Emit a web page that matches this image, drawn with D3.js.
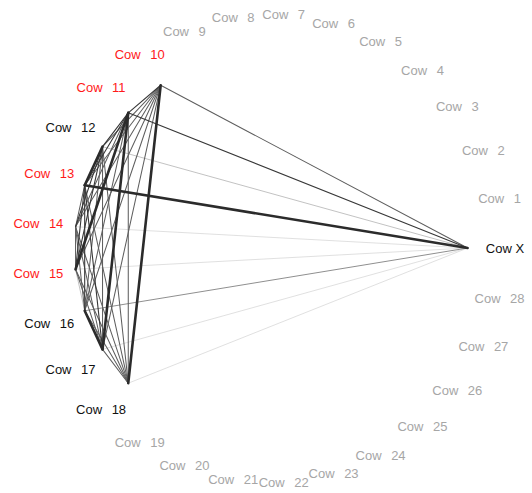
<!DOCTYPE html>
<html>
<head>
<meta charset="utf-8">
<script src="https://cdn.jsdelivr.net/npm/d3@7"></script>
<style>
  html, body { margin: 0; padding: 0; background: #fff; }
  svg { display: block; }
</style>
</head>
<body>
<svg id="chart" width="532" height="493"></svg>
<script>
// Nodes in circle order, starting at the right and running counter-clockwise
const nodeIds = ["X", "1", "2", "3", "4", "5", "6", "7", "8", "9", "10", "11", "12", "13", "14",
                 "15", "16", "17", "18", "19", "20", "21", "22", "23", "24", "25", "26", "27", "28"];

// Label groups
const redCows = ["10", "11", "13", "14", "15"];
const blackCows = ["X", "12", "16", "17", "18"];

// Weighted ties (source, target, strength 1..5)
const edgeSource = [
  "10","11","12","13","14","15","16","17","18",
  "10","10","10","10","10","10","10","10",
  "11","11","11","11","11","11","11",
  "12","12","12","12","12","12",
  "13","13","13","13","13",
  "14","14","14","14",
  "15","15","15",
  "16","16",
  "17"
];
const edgeTarget = [
  "X","X","X","X","X","X","X","X","X",
  "11","12","13","14","15","16","17","18",
  "12","13","14","15","16","17","18",
  "13","14","15","16","17","18",
  "14","15","16","17","18",
  "15","16","17","18",
  "16","17","18",
  "17","18",
  "18"
];
const edgeWeight = [
  3, 4, 2, 5, 1, 1, 2.5, 1, 1,
  4, 3, 3, 3, 3, 3, 3, 5,
  4, 4, 3, 5, 3, 5, 3,
  5, 4, 4, 3, 3, 3,
  3, 4, 4, 4, 3,
  3, 3, 3, 3,
  2, 3, 3,
  5, 3,
  3
];

const svg = d3.select("#chart");
const cx = 271, cy = 248;
const nodeR = 196.6, labelR = 234;

const angle = d3.scaleLinear().domain([0, nodeIds.length]).range([0, 2 * Math.PI]);
const idx = new Map(nodeIds.map((d, i) => [d, i]));
const px = (i, r) => cx + r * Math.cos(angle(i));
const py = (i, r) => cy - r * Math.sin(angle(i));

const strokeColor = d3.scaleLinear().domain([1, 2, 3, 4, 5])
  .range(["#dcdcdc", "#c0c0c0", "#5e5e5e", "#383838", "#2b2b2b"]);
const strokeWidth = d3.scaleLinear().domain([1, 4, 5]).range([0.9, 1.1, 2.6]);

const edges = edgeSource.map((s, i) => ({ s, t: edgeTarget[i], w: edgeWeight[i] }))
  .sort((a, b) => a.w - b.w);

svg.append("g").selectAll("line")
  .data(edges)
  .join("line")
  .attr("x1", d => px(idx.get(d.s), nodeR))
  .attr("y1", d => py(idx.get(d.s), nodeR))
  .attr("x2", d => px(idx.get(d.t), nodeR))
  .attr("y2", d => py(idx.get(d.t), nodeR))
  .attr("stroke", d => strokeColor(d.w))
  .attr("stroke-width", d => strokeWidth(d.w))
  .attr("stroke-linecap", "round");

const labelColor = id => redCows.includes(id) ? "#ff1a1a"
  : blackCows.includes(id) ? "#111111" : "#a6a6a6";

const labels = svg.append("g")
  .attr("font-family", "'Liberation Sans', Arial, sans-serif")
  .attr("font-size", 13)
  .selectAll("text")
  .data(nodeIds)
  .join("text")
  .attr("x", (d, i) => px(i, labelR))
  .attr("y", (d, i) => py(i, labelR))
  .attr("text-anchor", "middle")
  .attr("dominant-baseline", "central")
  .attr("fill", d => labelColor(d));

labels.append("tspan").text("Cow");
labels.append("tspan")
  .attr("dx", d => d === "X" ? 3.6 : 9.5)
  .text(d => d);
</script>
</body>
</html>
